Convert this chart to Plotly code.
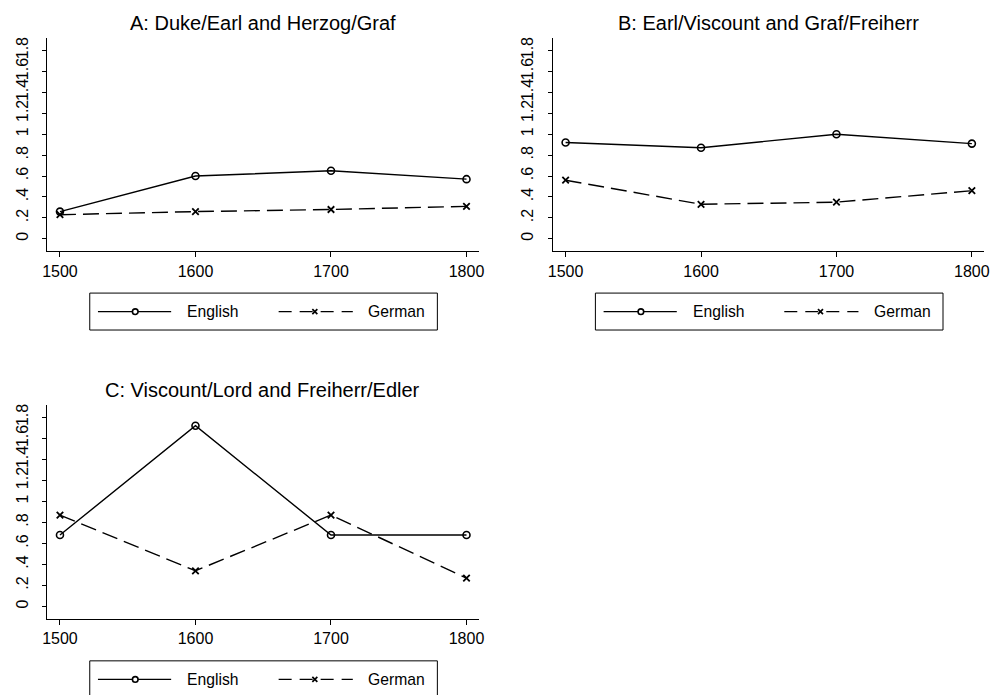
import plotly.graph_objects as go

# Century of observation
years = [1500, 1600, 1700, 1800]

# Panel A: Duke/Earl and Herzog/Graf
a_english = [0.26, 0.60, 0.65, 0.57]
a_german = [0.23, 0.26, 0.28, 0.31]

# Panel B: Earl/Viscount and Graf/Freiherr
b_english = [0.92, 0.87, 1.00, 0.91]
b_german = [0.56, 0.33, 0.35, 0.46]

# Panel C: Viscount/Lord and Freiherr/Edler
c_english = [0.68, 1.72, 0.68, 0.68]
c_german = [0.87, 0.34, 0.87, 0.27]

panel_titles = [
    "A: Duke/Earl and Herzog/Graf",
    "B: Earl/Viscount and Graf/Freiherr",
    "C: Viscount/Lord and Freiherr/Edler",
]
series_names = ["English", "German"]
y_tickvals = [0, 0.2, 0.4, 0.6, 0.8, 1.0, 1.2, 1.4, 1.6, 1.8]
y_ticktext = ["0", ".2", ".4", ".6", ".8", "1", "1.2", "1.4", "1.6", "1.8"]

W, H = 995, 695
FONT = "Liberation Sans, Arial, Helvetica, sans-serif"
DASH = "16px,7px"
KEY_DASH = "13px,8px"


def px_x(p):
    return p / W


def px_y(p):
    return 1 - p / H


# plot areas in pixels: (left, right, top, bottom)
areas = [
    (42.7, 479.0, 37.0, 250.7),
    (554.0, 990.0, 37.0, 250.7),
    (42.7, 479.0, 404.3, 619.0),
]

fig = go.Figure()
data = [(a_english, a_german), (b_english, b_german), (c_english, c_german)]

for i, (eng, ger) in enumerate(data):
    suffix = "" if i == 0 else str(i + 1)
    fig.add_trace(go.Scatter(
        x=years, y=eng, name=series_names[0], mode="lines+markers",
        line=dict(color="black", width=1.4),
        marker=dict(symbol="circle-open", size=7, color="black", line=dict(width=1.6)),
        xaxis="x" + suffix, yaxis="y" + suffix, showlegend=False,
    ))
    fig.add_trace(go.Scatter(
        x=years, y=ger, name=series_names[1], mode="lines+markers",
        line=dict(color="black", width=1.4, dash=DASH),
        marker=dict(symbol="x-thin-open", size=6.5, color="black", line=dict(width=1.8, color="black")),
        xaxis="x" + suffix, yaxis="y" + suffix, showlegend=False,
    ))

layout = dict(
    width=W, height=H,
    margin=dict(l=0, r=0, t=0, b=0),
    paper_bgcolor="white", plot_bgcolor="white",
    font=dict(family=FONT, color="black"),
    shapes=[], annotations=[],
)

for i, (l, r, t, b) in enumerate(areas):
    suffix = "" if i == 0 else str(i + 1)
    layout["xaxis" + suffix] = dict(
        domain=[px_x(l), px_x(r)], anchor="y" + suffix,
        range=[1490.6, 1809], tickvals=years, ticktext=[str(y) for y in years],
        showline=True, linecolor="black", linewidth=1,
        ticks="outside", ticklen=5, tickwidth=1, tickcolor="black",
        showgrid=False, zeroline=False,
        tickfont=dict(size=16, family=FONT, color="black"),
    )
    layout["yaxis" + suffix] = dict(
        domain=[px_y(b), px_y(t)], anchor="x" + suffix,
        range=[-0.12, 1.92], tickvals=y_tickvals, ticktext=y_ticktext,
        tickangle=-90,
        showline=True, linecolor="black", linewidth=1,
        ticks="outside", ticklen=4, tickwidth=1, tickcolor="black",
        showgrid=False, zeroline=False,
        tickfont=dict(size=16, family=FONT, color="black"),
        ticklabelstandoff=8,
    )
    # panel title
    layout["annotations"].append(dict(
        text=panel_titles[i], xref="paper", yref="paper",
        x=px_x((l + r) / 2), y=px_y(t - 15), xanchor="center", yanchor="middle",
        showarrow=False, font=dict(size=20, family=FONT, color="black"),
    ))

    # key box below each panel
    bx0 = l + 43.0
    bx1 = bx0 + 351.5
    by0 = b + 41.8
    by1 = by0 + 37.0
    cy = by0 + 18.6
    layout["shapes"].append(dict(
        type="rect", xref="paper", yref="paper",
        x0=px_x(bx0), x1=px_x(bx1), y0=px_y(by1), y1=px_y(by0),
        line=dict(color="black", width=1), fillcolor="rgba(0,0,0,0)",
    ))
    # English sample: solid line with open circle
    layout["shapes"].append(dict(
        type="line", xref="paper", yref="paper",
        x0=px_x(bx0 + 8.3), x1=px_x(bx0 + 82.3), y0=px_y(cy), y1=px_y(cy),
        line=dict(color="black", width=1.4),
    ))
    layout["shapes"].append(dict(
        type="circle", xref="paper", yref="paper",
        xsizemode="pixel", ysizemode="pixel",
        xanchor=px_x(bx0 + 46), yanchor=px_y(cy),
        x0=-2.8, x1=2.8, y0=-2.8, y1=2.8,
        line=dict(color="black", width=1.6), fillcolor="white",
    ))
    layout["annotations"].append(dict(
        text=series_names[0], xref="paper", yref="paper",
        x=px_x(bx0 + 96.5), y=px_y(cy), xanchor="left", yanchor="middle",
        showarrow=False, font=dict(size=15.7, family=FONT, color="black"),
    ))
    # German sample: dashed line with x
    layout["shapes"].append(dict(
        type="line", xref="paper", yref="paper",
        x0=px_x(bx0 + 191), x1=px_x(bx0 + 266), y0=px_y(cy), y1=px_y(cy),
        line=dict(color="black", width=1.4, dash=KEY_DASH),
    ))
    mx = px_x(bx0 + 227.6)
    my = px_y(cy)
    for sgn in (1, -1):
        layout["shapes"].append(dict(
            type="line", xref="paper", yref="paper",
            xsizemode="pixel", ysizemode="pixel", xanchor=mx, yanchor=my,
            x0=-2.5, x1=2.5, y0=-2.5 * sgn, y1=2.5 * sgn,
            line=dict(color="black", width=1.7),
        ))
    layout["annotations"].append(dict(
        text=series_names[1], xref="paper", yref="paper",
        x=px_x(bx0 + 279.8), y=px_y(cy), xanchor="left", yanchor="middle",
        showarrow=False, font=dict(size=15.7, family=FONT, color="black"),
    ))

fig.update_layout(**layout)
fig.write_html("out.html")
